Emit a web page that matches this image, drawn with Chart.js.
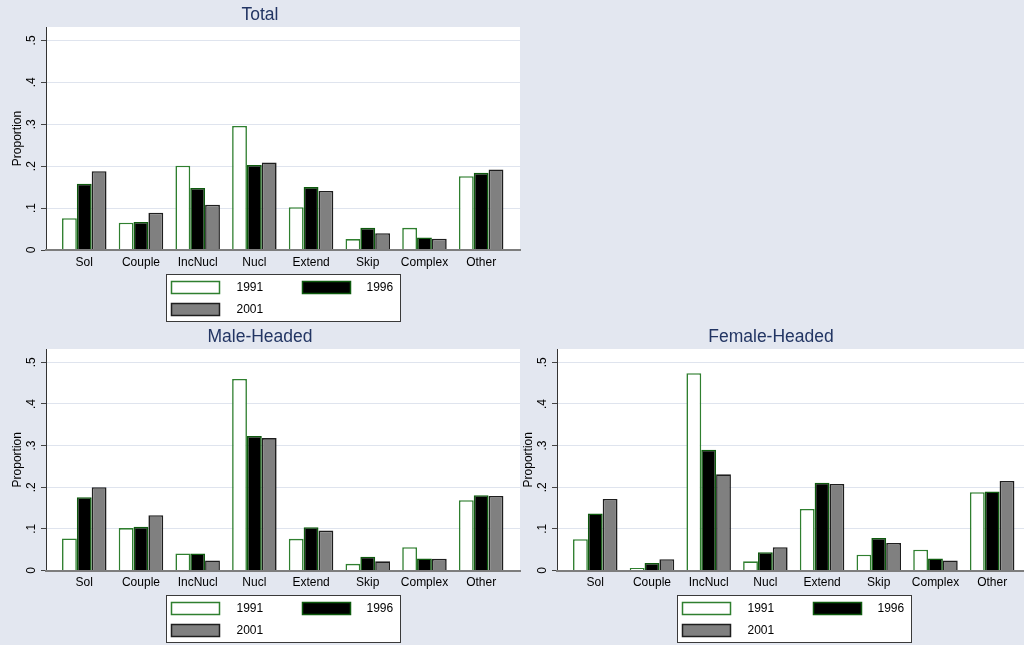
<!DOCTYPE html>
<html>
<head>
<meta charset="utf-8">
<title>Household types by year</title>
<script src="https://cdn.jsdelivr.net/npm/chart.js@4/dist/chart.umd.min.js"></script>
<style>
  html, body { margin: 0; padding: 0; width: 1024px; height: 645px; overflow: hidden; background: #e3e7f0; position: relative; }
  canvas { position: absolute; }
</style>
</head>
<body>
<canvas id="chartTotal" width="566" height="325" style="left:0;top:0"></canvas>
<canvas id="chartMale" width="566" height="323" style="left:0;top:322px"></canvas>
<canvas id="chartFemale" width="566" height="323" style="left:511px;top:322px"></canvas>
<script>
// Household structure categories and the three survey years
const categories = ['Sol', 'Couple', 'IncNucl', 'Nucl', 'Extend', 'Skip', 'Complex', 'Other'];
const seriesLabels = ['1991', '1996', '2001'];
const yTickValues = [0, 0.1, 0.2, 0.3, 0.4, 0.5];
const yTickLabels = ['0', '.1', '.2', '.3', '.4', '.5'];

// Proportions, all households
const total1991 = [0.076, 0.065, 0.201, 0.296, 0.102, 0.026, 0.053, 0.176];
const total1996 = [0.158, 0.067, 0.148, 0.203, 0.150, 0.053, 0.030, 0.184];
const total2001 = [0.188, 0.089, 0.108, 0.209, 0.141, 0.040, 0.027, 0.192];

// Proportions, male-headed households
const male1991 = [0.077, 0.102, 0.041, 0.460, 0.076, 0.016, 0.056, 0.169];
const male1996 = [0.176, 0.105, 0.041, 0.323, 0.104, 0.033, 0.029, 0.181];
const male2001 = [0.200, 0.133, 0.024, 0.318, 0.096, 0.022, 0.028, 0.179];

// Proportions, female-headed households
const female1991 = [0.075, 0.006, 0.474, 0.022, 0.148, 0.038, 0.050, 0.188];
const female1996 = [0.137, 0.018, 0.290, 0.044, 0.211, 0.078, 0.029, 0.190];
const female2001 = [0.172, 0.027, 0.231, 0.056, 0.208, 0.066, 0.024, 0.215];

const FONT = '"Liberation Sans", Arial, Helvetica, sans-serif';
Chart.defaults.font.family = FONT;
Chart.defaults.color = '#000';

const seriesStyle = [
  { fill: '#ffffff', line: '#2f7f2f' },
  { fill: '#000000', line: '#0e5a0e' },
  { fill: '#808080', line: '#1e1e1e' }
];

// White plot region behind the bars
const plotBackground = {
  id: 'plotBackground',
  beforeDraw(chart) {
    const { ctx, chartArea: a } = chart;
    ctx.save();
    ctx.fillStyle = '#ffffff';
    ctx.fillRect(a.left, a.top, a.right - a.left, a.bottom - a.top);
    ctx.restore();
  }
};

// Vertical (rotated) value labels on the y axis
const rotatedYLabels = {
  id: 'rotatedYLabels',
  afterDraw(chart) {
    const s = chart.scales.y;
    const ctx = chart.ctx;
    ctx.save();
    ctx.font = '12px ' + FONT;
    ctx.fillStyle = '#000';
    ctx.textAlign = 'center';
    ctx.textBaseline = 'middle';
    s.ticks.forEach(t => {
      const idx = yTickValues.indexOf(t.value);
      if (idx < 0) return;
      const y = s.getPixelForValue(t.value);
      ctx.save();
      ctx.translate(chart.chartArea.left - 14, y);
      ctx.rotate(-Math.PI / 2);
      ctx.fillText(yTickLabels[idx], 0, 0);
      ctx.restore();
    });
    ctx.restore();
  }
};

// Boxed two-column legend below each plot
const boxedLegend = {
  id: 'boxedLegend',
  afterDraw(chart) {
    const { ctx, chartArea: a } = chart;
    const w = 234, h = 47;
    const left = Math.round((a.left + a.right) / 2 - w / 2) + 0.5;
    const top = Math.round(a.bottom + 24) + 0.5;
    ctx.save();
    ctx.fillStyle = '#ffffff';
    ctx.strokeStyle = '#3a3a3a';
    ctx.lineWidth = 1;
    ctx.fillRect(left, top, w, h);
    ctx.strokeRect(left, top, w, h);
    const slots = [
      { sx: 5, tx: 70, cy: 13 },
      { sx: 136, tx: 200, cy: 13 },
      { sx: 5, tx: 70, cy: 35 }
    ];
    chart.data.datasets.forEach((ds, i) => {
      const sl = slots[i];
      ctx.fillStyle = ds.backgroundColor;
      ctx.strokeStyle = ds.borderColor;
      ctx.lineWidth = 1.5;
      ctx.fillRect(left + sl.sx, top + sl.cy - 6, 48, 12);
      ctx.strokeRect(left + sl.sx, top + sl.cy - 6, 48, 12);
      ctx.fillStyle = '#000';
      ctx.font = '12px ' + FONT;
      ctx.textAlign = 'left';
      ctx.textBaseline = 'middle';
      ctx.fillText(ds.label, left + sl.tx, top + sl.cy);
    });
    ctx.restore();
  }
};

function makePanel(canvasId, titleText, series, xAxisHeight) {
  const datasets = series.map((values, k) => ({
    label: seriesLabels[k],
    data: values.map((v, i) => ({ x: i, y: v })),
    backgroundColor: seriesStyle[k].fill,
    borderColor: seriesStyle[k].line,
    borderWidth: 1.6,
    categoryPercentage: 0.785,
    barPercentage: 1.0
  }));
  return new Chart(document.getElementById(canvasId), {
    type: 'bar',
    data: { datasets },
    plugins: [plotBackground, rotatedYLabels, boxedLegend],
    options: {
      responsive: false,
      animation: false,
      devicePixelRatio: 1,
      layout: { padding: { left: 0, right: 46, top: 0, bottom: 0 } },
      plugins: {
        legend: { display: false },
        tooltip: { enabled: false },
        title: {
          display: true,
          text: titleText,
          color: '#223563',
          font: { size: 17.5, weight: 'normal', family: FONT },
          padding: { top: 5, bottom: 1 }
        }
      },
      scales: {
        x: {
          type: 'linear',
          offset: false,
          min: -0.675,
          max: 7.685,
          afterBuildTicks: s => { s.ticks = categories.map((c, i) => ({ value: i })); },
          afterFit: s => { s.height = xAxisHeight; },
          ticks: {
            autoSkip: false,
            maxRotation: 0,
            padding: 5,
            color: '#000',
            font: { size: 12, family: FONT },
            callback: v => categories[Math.round(v)]
          },
          grid: { offset: false, drawOnChartArea: false, drawTicks: false },
          border: { display: true, color: '#7d7d7d', width: 2, z: 1 }
        },
        y: {
          type: 'linear',
          min: 0,
          max: 0.532,
          afterBuildTicks: s => { s.ticks = yTickValues.map(v => ({ value: v })); },
          afterFit: s => { s.width = 46; },
          ticks: { display: false },
          grid: { color: '#dfe4ee', lineWidth: 1, drawTicks: true, tickLength: 5, tickColor: '#444' },
          border: { display: true, color: '#333', width: 1 },
          title: {
            display: true,
            text: 'Proportion',
            color: '#000',
            font: { size: 12, family: FONT },
            padding: { top: 10, bottom: 0 }
          }
        }
      }
    }
  });
}

makePanel('chartTotal', 'Total', [total1991, total1996, total2001], 75);
makePanel('chartMale', 'Male-Headed', [male1991, male1996, male2001], 74.5);
makePanel('chartFemale', 'Female-Headed', [female1991, female1996, female2001], 74.5);
</script>
</body>
</html>
